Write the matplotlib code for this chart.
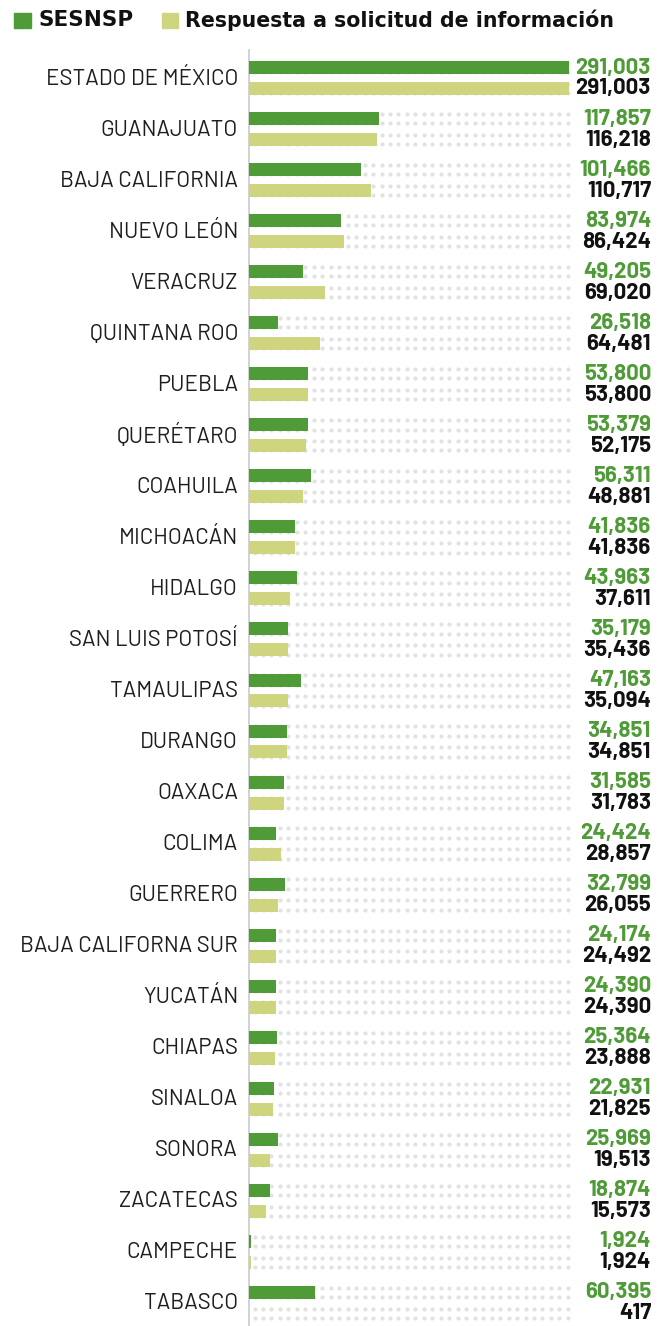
import numpy as np
import matplotlib
matplotlib.use('Agg')
import matplotlib.pyplot as plt
from matplotlib.patches import Rectangle
from matplotlib.transforms import blended_transform_factory

# Data
states = ['ESTADO DE MÉXICO', 'GUANAJUATO', 'BAJA CALIFORNIA', 'NUEVO LEÓN', 'VERACRUZ',
          'QUINTANA ROO', 'PUEBLA', 'QUERÉTARO', 'COAHUILA', 'MICHOACÁN', 'HIDALGO',
          'SAN LUIS POTOSÍ', 'TAMAULIPAS', 'DURANGO', 'OAXACA', 'COLIMA', 'GUERRERO',
          'BAJA CALIFORNA SUR', 'YUCATÁN', 'CHIAPAS', 'SINALOA', 'SONORA', 'ZACATECAS',
          'CAMPECHE', 'TABASCO']
sesnsp = [291003, 117857, 101466, 83974, 49205, 26518, 53800, 53379, 56311, 41836, 43963,
          35179, 47163, 34851, 31585, 24424, 32799, 24174, 24390, 25364, 22931, 25969,
          18874, 1924, 60395]
solicitud = [291003, 116218, 110717, 86424, 69020, 64481, 53800, 52175, 48881, 41836, 37611,
             35436, 35094, 34851, 31783, 28857, 26055, 24492, 24390, 23888, 21825, 19513,
             15573, 1924, 417]
legend_labels = ['SESNSP', 'Respuesta a solicitud de información']

GREEN = '#4e9b37'
LIGHT = '#cfd57f'
DOT = '#e2e2e2'

W, H = 663, 1326
fig = plt.figure(figsize=(W / 100, H / 100), dpi=100)

# axes placed in pixel terms: x from 249 to 569, y from 50 to 1326
ax = fig.add_axes([249 / W, 0, (569 - 249) / W, (1326 - 50) / H])
xmax = max(sesnsp)
ax.set_xlim(0, xmax)
px_per_row = 51.04
ax.set_ylim((1326 - 78) / px_per_row, (50 - 78) / px_per_row)

y = np.arange(len(states))
off = 0.205
bh = 0.255
dot_dy = 4.7 / px_per_row

# dotted background, two rows of dots behind every bar
dot_x = (np.arange(38) * 8.47 + 254.5 - 249) / 320 * xmax
for yy in y:
    for dy in (-off - dot_dy, -off + dot_dy, off - dot_dy, off + dot_dy):
        ax.scatter(dot_x, np.full_like(dot_x, yy + dy), s=9, color=DOT,
                   linewidths=0, zorder=1, clip_on=False)

ax.barh(y - off, sesnsp, height=bh, color=GREEN, zorder=3)
ax.barh(y + off, solicitud, height=bh, color=LIGHT, zorder=3)

for s in ['top', 'right', 'bottom']:
    ax.spines[s].set_visible(False)
ax.spines['left'].set_color('#cfcfcf')
ax.spines['left'].set_linewidth(1.3)
ax.set_xticks([])
ax.set_yticks([])
ax.patch.set_alpha(0)

trans = blended_transform_factory(fig.transFigure, ax.transData)
for i, name in enumerate(states):
    ax.text(238 / W, i + 0.02, name, transform=trans, ha='right', va='center',
            fontsize=16, fontweight='normal', family=['Barlow', 'DejaVu Sans'],
            color='#1e1e1e')
    ax.text(651 / W, i - off, f'{sesnsp[i]:,}', transform=trans, ha='right',
            va='center', fontsize=16, fontweight='bold',
            family=['Barlow', 'DejaVu Sans'], color=GREEN)
    ax.text(651 / W, i + off, f'{solicitud[i]:,}', transform=trans, ha='right',
            va='center', fontsize=16, fontweight='bold',
            family=['Barlow', 'DejaVu Sans'], color='#111111')

# header legend
fig.patches.append(Rectangle((14 / W, 1 - 28 / H), 17 / W, 15 / H, color=GREEN,
                             transform=fig.transFigure))
fig.patches.append(Rectangle((162 / W, 1 - 28 / H), 16 / W, 15 / H, color=LIGHT,
                             transform=fig.transFigure))
fig.text(39 / W, 1 - 20.5 / H, legend_labels[0], ha='left', va='center', fontsize=15.5,
         fontweight='bold', color='#111111')
fig.text(185 / W, 1 - 20.5 / H, legend_labels[1], ha='left', va='center', fontsize=14.8,
         fontweight='bold', color='#111111')

fig.savefig('out.png', dpi=100)
